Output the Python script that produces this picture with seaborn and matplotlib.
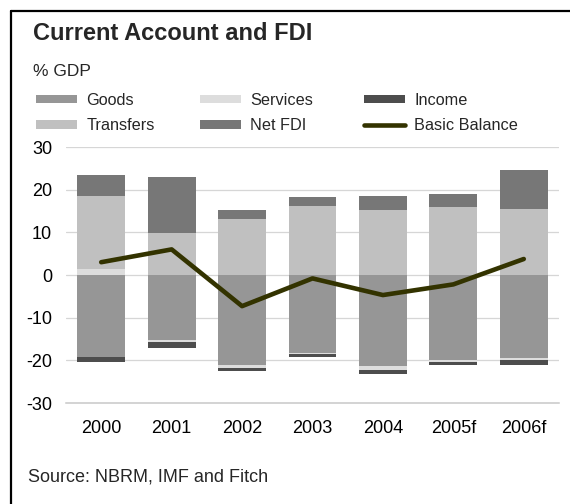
import numpy as np
import matplotlib
matplotlib.use("Agg")
import matplotlib.pyplot as plt
from matplotlib.lines import Line2D
from matplotlib.patches import Patch
import seaborn as sns

# Balance of payments components, % of GDP
years = ["2000", "2001", "2002", "2003", "2004", "2005f", "2006f"]
goods = [-19.2, -15.2, -21.1, -18.3, -21.3, -19.9, -19.4]
services = [1.5, -0.5, -0.6, -0.3, -0.9, -0.5, -0.6]
income = [-1.3, -1.3, -0.9, -0.7, -0.9, -0.6, -1.0]
transfers = [17.0, 9.9, 13.1, 16.2, 15.2, 15.9, 15.5]
net_fdi = [4.9, 13.0, 2.1, 2.1, 3.3, 3.1, 9.1]
basic_balance = [3.0, 6.0, -7.3, -0.8, -4.7, -2.2, 3.75]
y_ticks = [-30, -20, -10, 0, 10, 20, 30]

colors = {
    "Goods": "#969696",
    "Services": "#dddddd",
    "Income": "#4d4d4d",
    "Transfers": "#c0c0c0",
    "Net FDI": "#777777",
    "Basic Balance": "#333300",
}

sns.set_style("white")
plt.rcParams["font.family"] = ["Liberation Sans", "DejaVu Sans"]

fig = plt.figure(figsize=(5.7, 5.04), dpi=100)
W, H = 570, 504
ax = fig.add_axes([66 / W, 1 - 403 / H, (559 - 66) / W, (403 - 147) / H])

g = np.array(goods)
s = np.array(services)
inc = np.array(income)
t = np.array(transfers)
f = np.array(net_fdi)

# stacking: positives build up from zero, negatives build down from zero
s_bottom = np.where(s >= 0, 0.0, g)
t_bottom = np.maximum(s, 0.0)
f_bottom = t_bottom + t
inc_bottom = g + np.minimum(s, 0.0)

bar_kw = dict(ax=ax, width=0.68, saturation=1, linewidth=0, errorbar=None, zorder=2)
sns.barplot(x=years, y=goods, color=colors["Goods"], **bar_kw)
sns.barplot(x=years, y=services, bottom=s_bottom, color=colors["Services"], **bar_kw)
sns.barplot(x=years, y=income, bottom=inc_bottom, color=colors["Income"], **bar_kw)
sns.barplot(x=years, y=transfers, bottom=t_bottom, color=colors["Transfers"], **bar_kw)
sns.barplot(x=years, y=net_fdi, bottom=f_bottom, color=colors["Net FDI"], **bar_kw)

sns.lineplot(x=np.arange(len(years)), y=basic_balance, ax=ax, color=colors["Basic Balance"],
             linewidth=3.3, solid_capstyle="round", zorder=4)

ax.set_xlim(-0.5, len(years) - 0.5)
ax.set_ylim(-30, 30)
ax.set_yticks(y_ticks)
ax.set_yticklabels([str(v) for v in y_ticks])
ax.set_xticks(range(len(years)))
ax.set_xticklabels(years)
ax.set_xticks(np.arange(-0.5, len(years), 1.0), minor=True)
ax.set_xlabel("")
ax.set_ylabel("")

for v in y_ticks[1:]:
    ax.axhline(v, color="#d6d6d6", linewidth=0.9, zorder=0)

for side in ["top", "right", "left"]:
    ax.spines[side].set_visible(False)
ax.spines["bottom"].set_color("#c8c8c8")
ax.spines["bottom"].set_linewidth(1.1)

ax.tick_params(axis="x", which="major", length=0, pad=12, labelsize=13, colors="black")
ax.tick_params(axis="x", which="minor", length=5, width=1.0, color="#c8c8c8", direction="out")
ax.tick_params(axis="y", length=0, pad=10, labelsize=13, colors="black")

# Legend in three columns, two rows
def handle(name):
    if name == "Basic Balance":
        return Line2D([], [], color=colors[name], linewidth=3.3, solid_capstyle="round")
    return Patch(facecolor=colors[name], edgecolor="none")

columns = [("Goods", "Transfers"), ("Services", "Net FDI"), ("Income", "Basic Balance")]
col_x = [36, 200, 364]
for names, x0 in zip(columns, col_x):
    leg = fig.legend([handle(n) for n in names], list(names),
                     loc="upper left", bbox_to_anchor=(x0 / W, 1 - 93 / H),
                     frameon=False, fontsize=11.7, borderpad=0, borderaxespad=0,
                     handlelength=2.5, handleheight=0.42, handletextpad=0.6,
                     labelspacing=0.63)

fig.text(33 / W, 1 - 40 / H, "Current Account and FDI", fontsize=17, fontweight="bold",
         ha="left", va="baseline")
fig.text(33 / W, 1 - 76 / H, "% GDP", fontsize=12.5, ha="left", va="baseline")
fig.text(28 / W, 1 - 482 / H, "Source: NBRM, IMF and Fitch", fontsize=13, ha="left",
         va="baseline")

# frame lines along the top and left edges
fig.add_artist(Line2D([11 / W, 1.0], [1 - 11 / H, 1 - 11 / H], color="black", linewidth=1.6,
                      transform=fig.transFigure))
fig.add_artist(Line2D([11 / W, 11 / W], [0.0, 1 - 11 / H], color="black", linewidth=1.6,
                      transform=fig.transFigure))

fig.savefig("out.png", dpi=100)
